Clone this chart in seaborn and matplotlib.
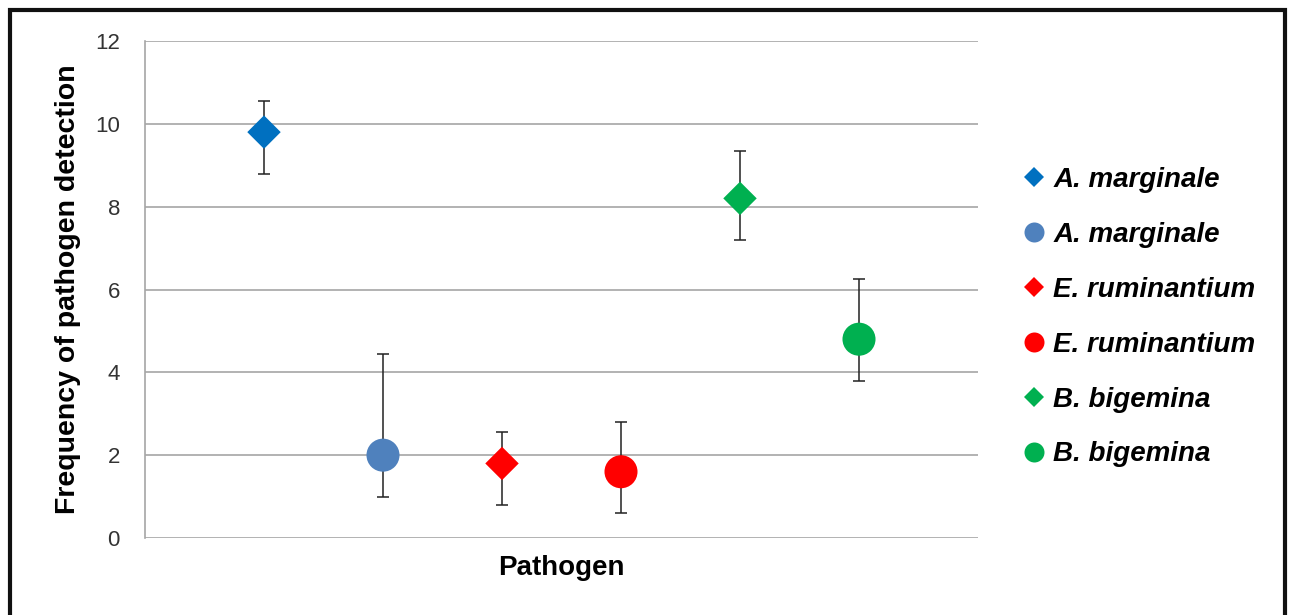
"""
Frequency of pathogen detection, mean with asymmetric error bars
"""

import numpy as np
import pandas as pd
import matplotlib
matplotlib.use("Agg")
import matplotlib.pyplot as plt
from matplotlib.lines import Line2D
from matplotlib.patches import Rectangle
import seaborn as sns

# data
series_ids = ["am_d", "am_c", "er_d", "er_c", "bb_d", "bb_c"]
labels     = ["A. marginale", "A. marginale", "E. ruminantium",
              "E. ruminantium", "B. bigemina", "B. bigemina"]
freq       = [9.8, 2.0, 1.8, 1.6, 8.2, 4.8]
err_low    = [1.0, 1.0, 1.0, 1.0, 1.0, 1.0]
err_high   = [0.75, 2.45, 0.75, 1.2, 1.15, 1.45]
yticks     = [0, 2, 4, 6, 8, 10, 12]

colors  = ["#0070C0", "#4F81BD", "#FF0000", "#FF0000", "#00B050", "#00B050"]
markers = ["D", "o", "D", "o", "D", "o"]

df = pd.DataFrame({"series": series_ids, "freq": freq})
df["pos"] = np.arange(1, len(df) + 1)

sns.set_style("white")
plt.rcParams["font.family"] = ["Liberation Sans", "DejaVu Sans"]
plt.rcParams["text.color"] = "black"
plt.rcParams["axes.labelcolor"] = "black"

fig = plt.figure(figsize=(12.91, 6.15), dpi=100)
ax = fig.add_axes([145 / 1291, 1 - 538 / 615, (978 - 145) / 1291, (538 - 41) / 615])

# error bars first so markers sit on top
ax.errorbar(df["pos"], df["freq"], yerr=[err_low, err_high], fmt="none",
            ecolor="#222222", elinewidth=1.1, capsize=4.6, capthick=1.1, zorder=2)

for m, size in {"D": 290, "o": 566}.items():
    sub = df[[mk == m for mk in markers]]
    sns.scatterplot(data=sub, x="pos", y="freq", hue="series",
                    palette=dict(zip(series_ids, colors)), marker=m, s=size,
                    linewidth=0, legend=False, ax=ax, zorder=3)

ax.set_xlim(0, 7)
ax.set_ylim(0, 12)
ax.set_yticks(yticks)
ax.set_xticks([])
ax.yaxis.grid(True, color="#A6A6A6", linewidth=1.2)
ax.set_axisbelow(True)
for side in ["top", "right", "bottom"]:
    ax.spines[side].set_visible(False)
ax.spines["left"].set_color("#A6A6A6")
ax.spines["left"].set_linewidth(1.2)
ax.tick_params(axis="y", length=0, pad=18, labelsize=16, labelcolor="#333333")

ax.set_xlabel("Pathogen", fontsize=20, fontweight="bold", labelpad=12)
ax.set_ylabel("Frequency of pathogen detection", fontsize=20.5,
              fontweight="bold", labelpad=10)

handles = [Line2D([], [], linestyle="none", marker=m, color=c,
                  markersize=10.2 if m == "D" else 14.4, markeredgewidth=0)
           for m, c in zip(markers, colors)]
fig.legend(handles, labels, loc="upper left", bbox_to_anchor=(995 / 1291, 1 - 142 / 615),
           frameon=False, handletextpad=0.2, labelspacing=1.04, handlelength=1.0,
           prop={"size": 20, "weight": "bold", "style": "italic"})

# outer frame like the exported chart box
fig.patches.append(Rectangle((10 / 1291, -0.05), 1275 / 1291, 1.05 - 10 / 615,
                             transform=fig.transFigure, fill=False,
                             edgecolor="#111111", linewidth=3, zorder=10))

fig.savefig("out.png", dpi=100)
